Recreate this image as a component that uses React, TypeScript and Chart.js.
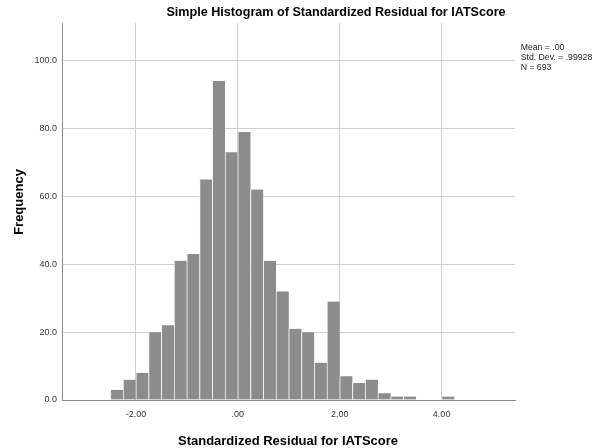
import React, { useEffect, useRef } from "react";
import { Chart, registerables } from "chart.js";

Chart.register(...registerables);

// Histogram bins (width 0.25) – midpoints and frequencies
const binMidpoints = [
  -2.375, -2.125, -1.875, -1.625, -1.375, -1.125, -0.875, -0.625, -0.375, -0.125,
  0.125, 0.375, 0.625, 0.875, 1.125, 1.375, 1.625, 1.875, 2.125, 2.375,
  2.625, 2.875, 3.125, 3.375, 3.625, 3.875, 4.125,
];
const frequencies = [
  3, 6, 8, 20, 22, 41, 43, 65, 94, 73,
  79, 62, 41, 32, 21, 20, 11, 29, 7, 5,
  6, 2, 1, 1, 0, 0, 1,
];
const xTickValues = [-2, 0, 2, 4];
const yTickValues = [0, 20, 40, 60, 80, 100];
const legendLines = ["Mean = .00", "Std. Dev. = .99928", "N = 693"];
const chartTitle = "Simple Histogram of Standardized Residual for IATScore";
const xTitle = "Standardized Residual for IATScore";
const yTitle = "Frequency";

const FONT = "'Liberation Sans', Arial, sans-serif";

export default function App() {
  const ref = useRef<HTMLCanvasElement | null>(null);

  useEffect(() => {
    if (!ref.current) return;
    const textPlugin = {
      id: "spssTexts",
      afterDraw(chart: any) {
        const ctx = chart.ctx as CanvasRenderingContext2D;
        ctx.save();
        ctx.fillStyle = "#000";
        ctx.textAlign = "center";
        ctx.textBaseline = "alphabetic";
        ctx.font = `bold 12.6px ${FONT}`;
        ctx.fillText(chartTitle, 336, 15.5);
        ctx.font = `bold 13px ${FONT}`;
        ctx.fillText(xTitle, 288, 445);
        ctx.save();
        ctx.translate(22.5, 202);
        ctx.rotate(-Math.PI / 2);
        ctx.fillText(yTitle, 0, 0);
        ctx.restore();
        ctx.font = `8.7px ${FONT}`;
        ctx.textAlign = "left";
        ctx.fillStyle = "#222";
        const baselines = [49.5, 60, 70.3];
        legendLines.forEach((t, i) => ctx.fillText(t, 520.7, baselines[i]));
        ctx.restore();
      },
    };

    const chart = new Chart(ref.current, {
      type: "bar",
      data: {
        datasets: [
          {
            data: binMidpoints.map((x, i) => ({ x, y: frequencies[i] })),
            backgroundColor: "#8c8c8c",
            borderColor: "#f4f4f4",
            borderWidth: { left: 1, right: 0, top: 0, bottom: 0 },
            borderSkipped: false,
            barPercentage: 1,
            categoryPercentage: 1,
          },
        ],
      },
      options: {
        responsive: false,
        animation: false,
        events: [],
        layout: { padding: { top: 23, right: 81, left: 0, bottom: 0 } },
        plugins: {
          legend: { display: false },
          title: { display: false },
          tooltip: { enabled: false },
        },
        scales: {
          x: {
            type: "linear",
            min: -3.45,
            max: 5.44,
            offset: false,
            afterBuildTicks: (scale: any) => {
              scale.ticks = xTickValues.map((v) => ({ value: v }));
            },
            afterFit: (scale: any) => {
              scale.height = 48;
            },
            ticks: {
              autoSkip: false,
              maxRotation: 0,
              padding: 9,
              color: "#333",
              font: { family: FONT, size: 9 },
              callback: (v: any) => {
                const n = Number(v);
                if (n === 0) return ".00";
                return n.toFixed(2);
              },
            },
            grid: {
              offset: false,
              color: "#cfcfcf",
              lineWidth: 1,
              drawTicks: false,
            },
            border: { display: true, color: "#8a8a8a", width: 1 },
          },
          y: {
            type: "linear",
            min: 0,
            max: 111.1,
            afterBuildTicks: (scale: any) => {
              scale.ticks = yTickValues.map((v) => ({ value: v }));
            },
            afterFit: (scale: any) => {
              scale.width = 62;
            },
            ticks: {
              padding: 5,
              color: "#333",
              font: { family: FONT, size: 9 },
              callback: (v: any) => Number(v).toFixed(1),
            },
            grid: {
              color: (c: any) => (c.tick && c.tick.value === 0 ? "rgba(0,0,0,0)" : "#cfcfcf"),
              lineWidth: 1,
              drawTicks: false,
            },
            border: { display: true, color: "#8a8a8a", width: 1 },
          },
        },
      },
      plugins: [textPlugin],
    });
    return () => chart.destroy();
  }, []);

  return (
    <div style={{ position: "fixed", left: 0, top: 0, width: 596, height: 448, background: "#fff" }}>
      <canvas ref={ref} width={596} height={448} style={{ display: "block" }} />
    </div>
  );
}
